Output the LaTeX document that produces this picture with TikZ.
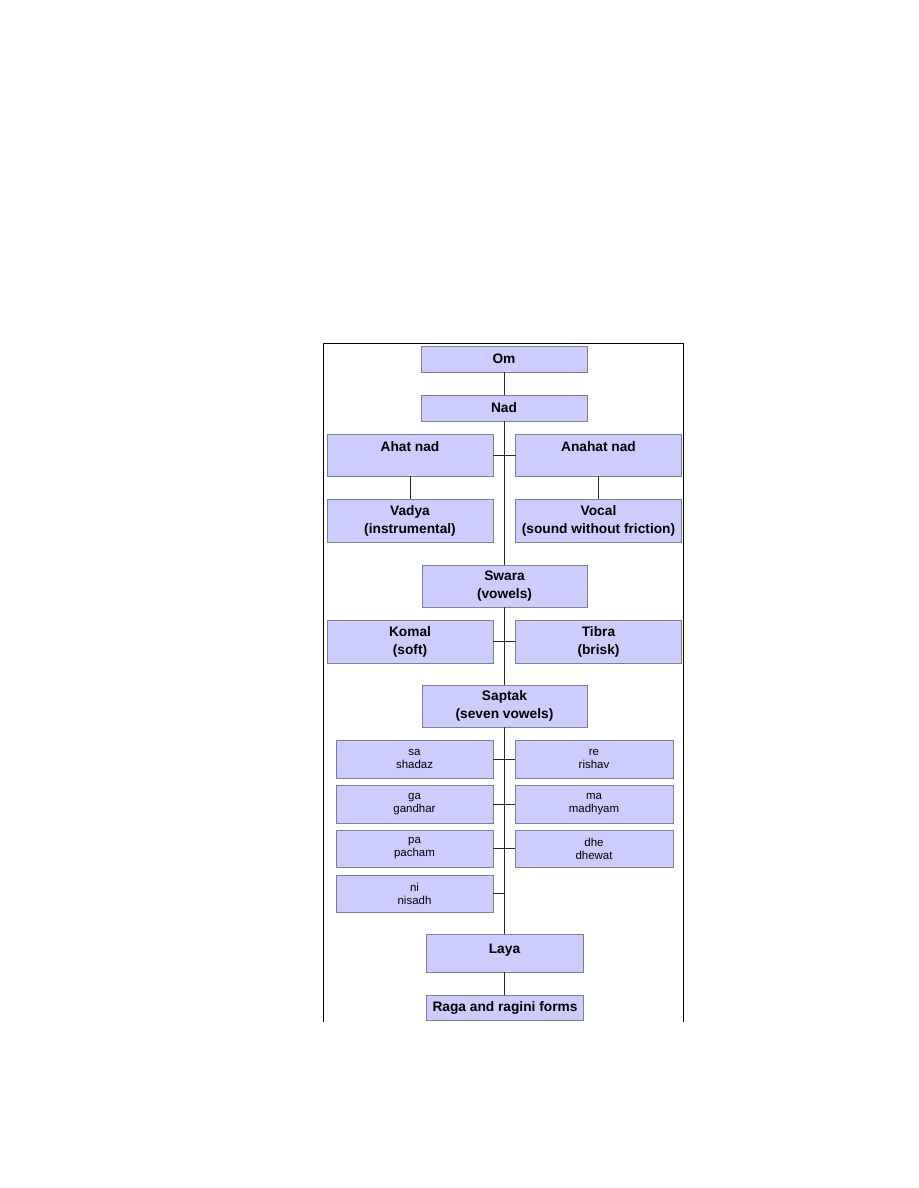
\documentclass[tikz,border=0pt]{standalone}
\usepackage{fontspec}
\setmainfont{Liberation Sans}
\usepackage{tikz}

\definecolor{boxfill}{RGB}{204,204,255}
\definecolor{boxline}{RGB}{128,128,140}
\definecolor{linkline}{RGB}{40,40,40}

\begin{document}
\begin{tikzpicture}[x=0.75pt, y=-0.75pt,
		box/.style={draw=boxline, fill=boxfill, line width=0.75pt, inner sep=0pt, outer sep=0pt, align=center, font=\fontsize{10.3}{13.5}\selectfont\bfseries},
		svarabox/.style={box, minimum width=117.75pt, minimum height=28.5pt, font=\fontsize{8.6}{9.75}\selectfont},
		link/.style={draw=linkline, line width=0.75pt}]
				\useasboundingbox (0,0) rectangle (918,1188);
				
				% Draw the frame round the chart
				\draw[line width=0.75pt] (323.5,1022) -- (323.5,343.5) -- (683.5,343.5) -- (683.5,1022);
				
				% Draw the main column
				\node[box, minimum width=124.5pt, minimum height=19.5pt] (om) at (504,359) {Om};
				\node[box, minimum width=124.5pt, minimum height=19.5pt] (nad) at (504,408) {Nad};
				\node[box, minimum width=124.5pt, minimum height=31.5pt, text height=7.5pt, text depth=13.5pt] (ahat) at (410,455) {Ahat nad};
				\node[box, minimum width=124.5pt, minimum height=31.5pt, text height=7.5pt, text depth=13.5pt] (anahat) at (598.5,455) {Anahat nad};
				\node[box, minimum width=124.5pt, minimum height=32.25pt] (vadya) at (410,520.5) {Vadya\\(instrumental)};
				\node[box, minimum width=124.5pt, minimum height=32.25pt] (vocal) at (598.5,520.5) {Vocal\\(sound without friction)};
				\node[box, minimum width=123.75pt, minimum height=31.5pt] (swara) at (504.5,586) {Swara\\(vowels)};
				\node[box, minimum width=124.5pt, minimum height=32.25pt] (komal) at (410,641.5) {Komal\\(soft)};
				\node[box, minimum width=124.5pt, minimum height=32.25pt] (tibra) at (598.5,641.5) {Tibra\\(brisk)};
				\node[box, minimum width=123.75pt, minimum height=31.5pt] (saptak) at (504.5,706) {Saptak\\(seven vowels)};
				
				% Draw the seven svaras
				\node[svarabox] (sa) at (414.5,759) {sa\\shadaz};
				\node[svarabox, minimum width=118.5pt] (re) at (594,759) {re\\rishav};
				\node[svarabox] (ga) at (414.5,804) {ga\\gandhar};
				\node[svarabox, minimum width=118.5pt] (ma) at (594,804) {ma\\madhyam};
				\node[svarabox, minimum height=27.75pt] (pa) at (414.5,848.5) {pa\\pacham};
				\node[svarabox, minimum width=118.5pt, minimum height=27.75pt] (dhe) at (594,848.5) {dhe\\dhewat};
				\node[svarabox, minimum height=27.75pt] (ni) at (414.5,893.5) {ni\\nisadh};
				
				% Draw the last two boxes
				\node[box, minimum width=117.75pt, minimum height=28.5pt, text height=7.5pt, text depth=7.5pt] (laya) at (504.5,953) {Laya};
				\node[box, minimum width=117.75pt, minimum height=18.75pt] (raga) at (505,1007.5) {Raga and ragini forms};
				
				% Draw the connectors
				\draw[link] (om) -- (nad);
				\draw[link] (nad.south) -- (nad.south |- swara.north);
				\draw[link] (ahat) -- (anahat);
				\draw[link] (ahat) -- (vadya);
				\draw[link] (anahat) -- (vocal);
				\draw[link] (swara) -- (saptak);
				\draw[link] (komal) -- (tibra);
				\draw[link] (saptak) -- (laya);
				\draw[link] (sa) -- (re);
				\draw[link] (ga) -- (ma);
				\draw[link] (pa) -- (dhe);
				\draw[link] (ni.east) -- (ni.east -| saptak.south);
				\draw[link] (laya.south) -- (laya.south |- raga.north);
			\end{tikzpicture}
\end{document}
